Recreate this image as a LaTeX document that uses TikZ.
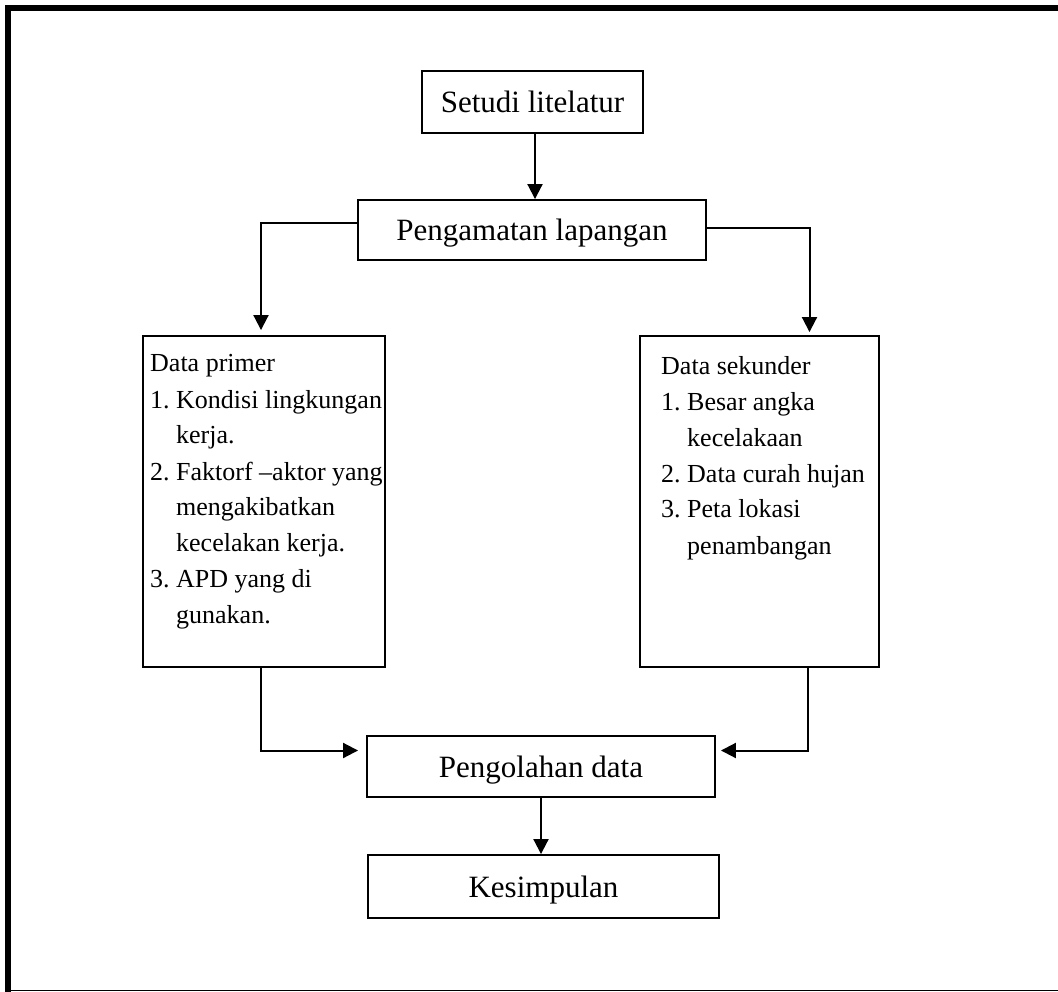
\documentclass[tikz,border=0pt]{standalone}
\usepackage{fontspec}
\setmainfont{Liberation Serif}
\usetikzlibrary{arrows.meta}
\begin{document}
\begin{tikzpicture}[x=1pt,y=-1pt,
  box/.style={draw,line width=1.9pt,inner sep=0pt,font=\fontsize{31}{36.5}\selectfont,text height=21pt,text depth=0pt},
  lst/.style={inner sep=0pt,font=\fontsize{26}{36}\selectfont},
  conn/.style={line width=2pt,-{Triangle[length=15pt,width=15pt]}},
]
\useasboundingbox (0,0) rectangle (1058,992);
\draw[line width=6pt] (8,992) -- (8,8) -- (1058,8);
\draw[line width=1.5pt] (5,990.5) -- (1058,990.5);

\node[box,minimum width=221pt,minimum height=62pt] (s) at (532.5,102) {Setudi litelatur};
\node[box,minimum width=348pt,minimum height=60pt] (p) at (532,230) {Pengamatan lapangan};
\node[box,minimum width=242pt,minimum height=331pt] (dp) at (264,501.5) {};
\node[box,minimum width=239pt,minimum height=331pt] (ds) at (759.5,501.5) {};
\node[box,minimum width=348pt,minimum height=61pt] (o) at (541,766.5) {Pengolahan data};
\node[box,minimum width=351pt,minimum height=63pt] (k) at (543.5,886.5) {Kesimpulan};

\node[lst,anchor=base west] (dpt) at (150,372) {\begin{tabular}[t]{@{}l@{}}
Data primer\\
\makebox[26pt][l]{1.}Kondisi lingkungan\\
\hspace*{26pt}kerja.\\
\makebox[26pt][l]{2.}Faktorf –aktor yang\\
\hspace*{26pt}mengakibatkan\\
\hspace*{26pt}kecelakan kerja.\\
\makebox[26pt][l]{3.}APD yang di\\
\hspace*{26pt}gunakan.
\end{tabular}};

\node[lst,anchor=base west] (dst) at (661,374) {\begin{tabular}[t]{@{}l@{}}
Data sekunder\\
\makebox[26pt][l]{1.}Besar angka\\
\hspace*{26pt}kecelakaan\\
\makebox[26pt][l]{2.}Data curah hujan\\
\makebox[26pt][l]{3.}Peta lokasi\\
\hspace*{26pt}penambangan
\end{tabular}};

\draw[conn] ([xshift=2.5pt]s.south) -- ([xshift=2.5pt]s.south |- p.north);
\draw[conn,shorten >=5pt] ([yshift=7pt]p.west) -| ([xshift=-3pt]dp.north);
\draw[conn,shorten >=3pt] ([yshift=2pt]p.east) -| ([xshift=50pt]ds.north);
\draw[conn,shorten >=8pt] ([xshift=-3pt]dp.south) |- ([yshift=16pt]o.west);
\draw[conn,shorten >=5pt] ([xshift=48pt]ds.south) |- ([yshift=16pt]o.east);
\draw[conn] (o.south) -- (o.south |- k.north);
\end{tikzpicture}
\end{document}
